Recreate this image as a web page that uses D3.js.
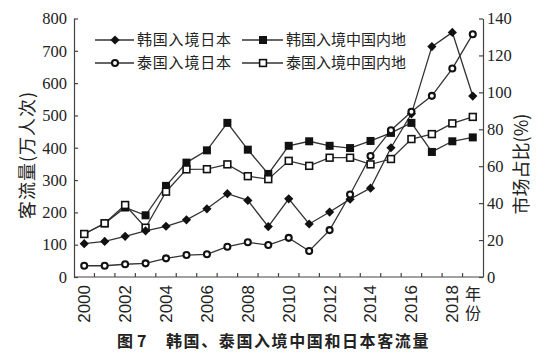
<!DOCTYPE html>
<html>
<head>
<meta charset="utf-8">
<script src="https://cdn.jsdelivr.net/npm/d3@7"></script>
<style>
  html, body { margin: 0; padding: 0; background: #fff; }
  svg { display: block; }
</style>
</head>
<body>
<svg id="chart" width="550" height="359"></svg>
<script>
// ---------- data ----------
const years = [2000,2001,2002,2003,2004,2005,2006,2007,2008,2009,2010,2011,2012,2013,2014,2015,2016,2017,2018,2019];
const xTickLabels = ["2000","2002","2004","2006","2008","2010","2012","2014","2016","2018"];
const leftTicks = [0,100,200,300,400,500,600,700,800];
const rightTicks = [0,20,40,60,80,100,120,140];

// left axis (万人次)
const koreaJapan = [103,110,126,143,157,177,211,258,237,156,242,164,201,241,275,400,505,713,757,560];
const koreaChina = [133,166,215,191,282,354,392,477,394,319,406,420,406,399,421,446,477,387,420,432];
// right axis
const thaiJapan = [6.1,6.1,6.9,7.4,10.1,11.9,12.3,16.4,18.8,17.3,21.2,14.1,25.4,44.7,65.5,79.5,89.5,98.1,112.9,131.5];
const thaiChina = [23.3,29.1,39.0,26.7,46.2,58.3,58.4,61.0,54.6,53.0,62.9,60.2,64.6,64.6,61.0,63.9,74.7,77.4,83.2,86.7];

const seriesNames = ["韩国入境日本","韩国入境中国内地","泰国入境日本","泰国入境中国内地"];

// ---------- layout ----------
const svg = d3.select("#chart");
const L = 74, R = 483, T = 18.5, B = 277;
const ink = "#222";
const serif = "'Liberation Serif', 'Times New Roman', serif";
const cjk = "'Noto Sans CJK SC', sans-serif";

const x = d3.scaleBand().domain(years).range([L, R]).padding(0);
const yL = d3.scaleLinear().domain([0, 800]).range([B, T]);
const yR = d3.scaleLinear().domain([0, 140]).range([B, T]);
const cx = d => x(d) + x.bandwidth() / 2;

// axes
const gL = svg.append("g").attr("transform", `translate(${L},0)`)
  .call(d3.axisLeft(yL).tickValues(leftTicks).tickSizeInner(-4).tickSizeOuter(0).tickPadding(7));
const gR = svg.append("g").attr("transform", `translate(${R},0)`)
  .call(d3.axisRight(yR).tickValues(rightTicks).tickSizeInner(-4).tickSizeOuter(0).tickPadding(4));
[gL, gR].forEach(g => {
  g.select(".domain").attr("stroke", "#444").attr("stroke-width", 1.2);
  g.selectAll(".tick line").attr("stroke", "#444").attr("stroke-width", 1.2);
  g.selectAll(".tick text").attr("font-family", serif)
    .attr("font-size", 16.5).attr("fill", ink);
});

// bottom axis
const gB = svg.append("g").attr("transform", `translate(0,${B})`);
gB.append("line").attr("x1", L).attr("x2", R).attr("y1", 0).attr("y2", 0)
  .attr("stroke", "#444").attr("stroke-width", 1.2);
gB.selectAll("line.tk").data(years.slice(1)).enter().append("line")
  .attr("class", "tk")
  .attr("x1", d => x(d)).attr("x2", d => x(d))
  .attr("y1", 0).attr("y2", -4)
  .attr("stroke", "#444").attr("stroke-width", 1.2);
gB.selectAll("text.yl").data(xTickLabels).enter().append("text")
  .attr("class", "yl")
  .attr("transform", d => `translate(${cx(+d)},8) rotate(-90)`)
  .attr("text-anchor", "end").attr("dy", "0.35em")
  .attr("font-family", "'Liberation Sans', Arial, sans-serif")
  .attr("font-size", 17).attr("fill", ink)
  .text(d => d);

// 年份 (vertical writing, one text element)
svg.append("text").attr("x", 473).attr("y", 286)
  .style("writing-mode", "vertical-rl")
  .attr("font-family", cjk).attr("font-size", 16).attr("letter-spacing", 2.5).attr("fill", ink)
  .text("年份");

// axis titles
svg.append("text").attr("transform", "translate(28,155) rotate(-90)")
  .attr("text-anchor", "middle").attr("dy", "0.35em")
  .attr("font-family", cjk).attr("font-size", 18).attr("letter-spacing", 1).attr("fill", ink)
  .text("客流量(万人次)");
svg.append("text").attr("transform", "translate(522,164) rotate(-90)")
  .attr("text-anchor", "middle").attr("dy", "0.35em")
  .attr("font-family", cjk).attr("font-size", 18).attr("fill", ink)
  .text("市场占比(%)");

// caption
svg.append("text").attr("x", 117).attr("y", 341).attr("dy", "0.35em")
  .attr("font-family", cjk).attr("font-size", 16).attr("font-weight", "bold").attr("fill", ink)
  .text("图");
svg.append("text").attr("x", 137).attr("y", 341).attr("dy", "0.35em")
  .attr("font-family", cjk).attr("font-size", 16).attr("font-weight", "bold").attr("fill", ink)
  .text("7");
svg.append("text").attr("x", 166).attr("y", 341).attr("dy", "0.35em")
  .attr("font-family", cjk).attr("font-size", 16).attr("font-weight", "bold")
  .attr("letter-spacing", 1.6).attr("fill", ink)
  .text("韩国、泰国入境中国和日本客流量");

// ---------- markers ----------
function marker(g, type, px, py) {
  if (type === "diamond") {
    const h = 4.6;
    g.append("path").attr("d", `M${px},${py-h}L${px+h},${py}L${px},${py+h}L${px-h},${py}Z`)
      .attr("fill", "#111");
  } else if (type === "square") {
    g.append("rect").attr("x", px - 4).attr("y", py - 4).attr("width", 8).attr("height", 8)
      .attr("fill", "#111");
  } else if (type === "osquare") {
    g.append("rect").attr("x", px - 3.4).attr("y", py - 3.4).attr("width", 6.8).attr("height", 6.8)
      .attr("fill", "#fff").attr("stroke", "#111").attr("stroke-width", 1.6);
  } else {
    g.append("circle").attr("cx", px).attr("cy", py).attr("r", 3)
      .attr("fill", "#fff").attr("stroke", "#111").attr("stroke-width", 2.1);
  }
}

const series = [
  { name: seriesNames[1], vals: koreaChina, y: yL, type: "square" },
  { name: seriesNames[3], vals: thaiChina, y: yR, type: "osquare" },
  { name: seriesNames[0], vals: koreaJapan, y: yL, type: "diamond" },
  { name: seriesNames[2], vals: thaiJapan, y: yR, type: "circle" }
];

const lineG = svg.append("g");
series.forEach(s => {
  const line = d3.line().x((d, i) => cx(years[i])).y(d => s.y(d));
  lineG.append("path").datum(s.vals).attr("d", line)
    .attr("fill", "none").attr("stroke", "#333").attr("stroke-width", 1.3);
});
const markG = svg.append("g");
series.forEach(s => {
  s.vals.forEach((v, i) => marker(markG, s.type, cx(years[i]), s.y(v)));
});

// ---------- legend ----------
const legendItems = [
  { name: seriesNames[0], type: "diamond", x1: 95, x2: 134, mx: 115, tx: 137, y: 40, ls: 0.8 },
  { name: seriesNames[2], type: "circle", x1: 95, x2: 134, mx: 115, tx: 137, y: 63, ls: 0.8 },
  { name: seriesNames[1], type: "square", x1: 242, x2: 283, mx: 263, tx: 286, y: 40, ls: 0 },
  { name: seriesNames[3], type: "osquare", x1: 242, x2: 283, mx: 263, tx: 286, y: 63, ls: 0 }
];
const lg = svg.append("g");
legendItems.forEach(it => {
  lg.append("line").attr("x1", it.x1).attr("x2", it.x2).attr("y1", it.y).attr("y2", it.y)
    .attr("stroke", "#333").attr("stroke-width", 1.3);
  marker(lg, it.type, it.mx, it.y);
  lg.append("text").attr("x", it.tx).attr("y", it.y).attr("dy", "0.35em")
    .attr("font-family", cjk).attr("font-size", 15).attr("letter-spacing", it.ls).attr("fill", ink)
    .text(it.name);
});
</script>
</body>
</html>
